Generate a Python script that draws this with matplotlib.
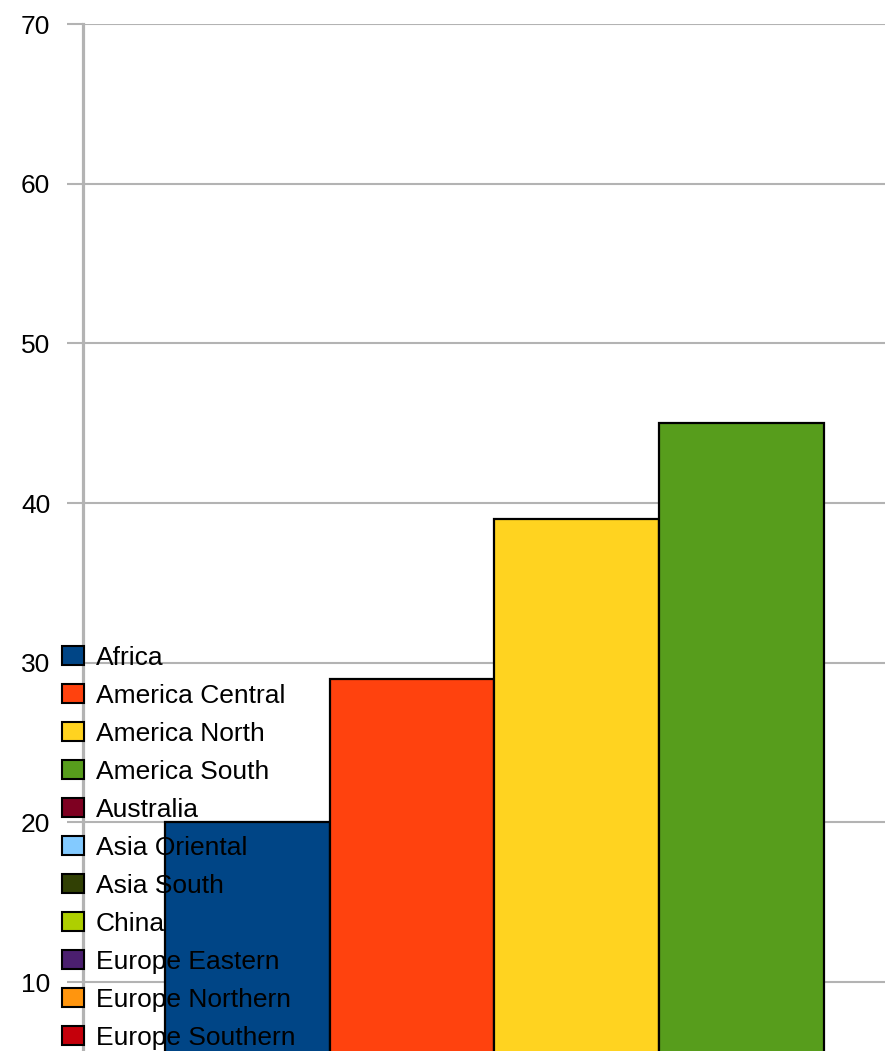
import matplotlib
matplotlib.use("Agg")
import matplotlib.pyplot as plt
from matplotlib.patches import Patch

plt.rcParams['font.family'] = ['Liberation Sans', 'DejaVu Sans']

# series shown in the legend (LibreOffice default palette)
regions = ["Africa", "America Central", "America North", "America South",
           "Australia", "Asia Oriental", "Asia South", "China",
           "Europe Eastern", "Europe Northern", "Europe Southern"]
colors = ["#004586", "#ff420e", "#ffd320", "#579d1c", "#7e0021", "#83caff",
          "#314004", "#aecf00", "#4b1f6f", "#ff950e", "#c5000b"]
# only the first four bars are visible in the picture
values = [20, 29, 39, 45]
yticks = [10, 20, 30, 40, 50, 60, 70]

fig = plt.figure(figsize=(8.85, 10.51), dpi=100)
ax = fig.add_axes([83 / 885, 0, 1 - 83 / 885, 1 - 24 / 1051])

grid_c = "#b3b3b3"
for i, v in enumerate(values):
    ax.bar(i, v, width=1.0, color=colors[i], edgecolor="black",
           linewidth=1.6, zorder=3)

ax.set_xlim(-0.997, 3.87)
ax.set_ylim(5.6875, 70)
ax.set_yticks(yticks)
ax.set_xticks([])
ax.yaxis.grid(True, color=grid_c, linewidth=1.5, zorder=0)
ax.set_axisbelow(True)
ax.tick_params(axis="y", length=11.5, width=1.5, color=grid_c,
               labelsize=19, pad=12)
for s in ["top", "right", "bottom"]:
    ax.spines[s].set_visible(False)
ax.spines["left"].set_color(grid_c)
ax.spines["left"].set_linewidth(2.3)
ax.spines["left"].set_zorder(2)

handles = [Patch(facecolor=c, edgecolor="black", linewidth=1.5) for c in colors]
leg = fig.legend(handles, regions, loc="upper left",
                 bbox_to_anchor=(62 / 885, 1 - 646 / 1051),
                 frameon=False, fontsize=19, borderpad=0, borderaxespad=0,
                 handlelength=0.83, handleheight=0.75, handletextpad=0.45,
                 labelspacing=0.53)
leg.set_zorder(5)

fig.savefig("out.png", dpi=100)
plt.close()
